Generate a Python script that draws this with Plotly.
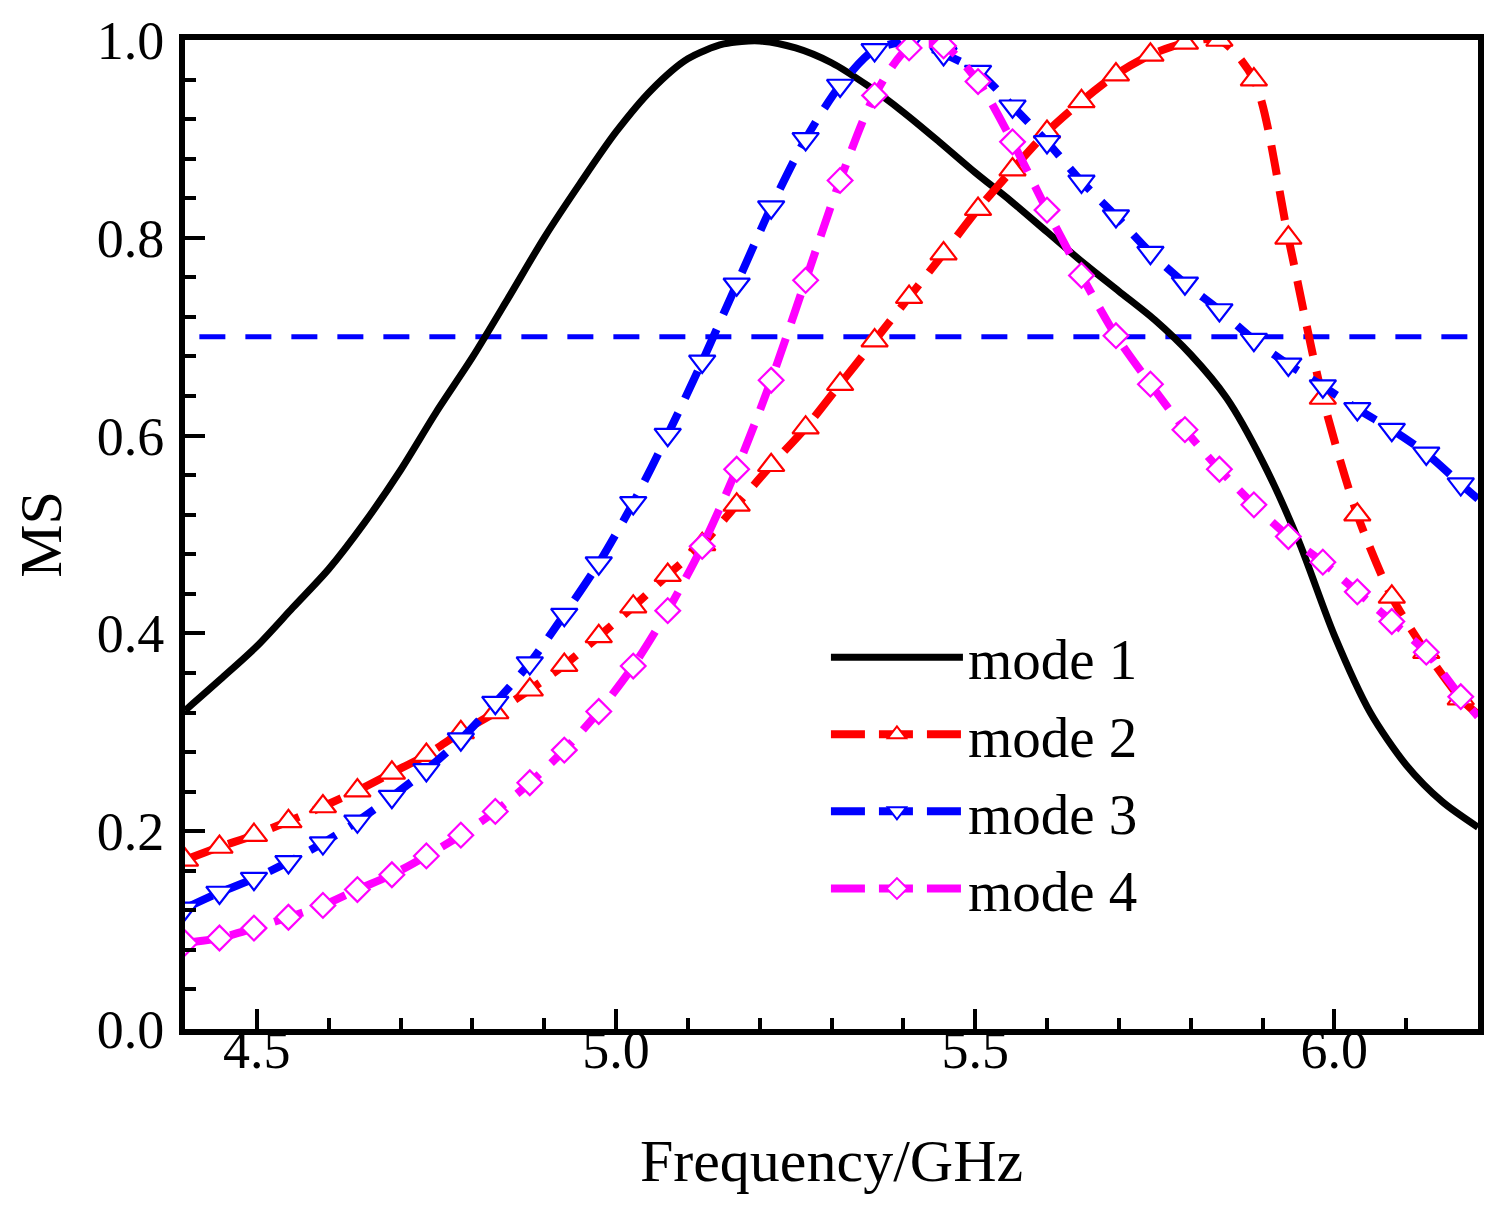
import plotly.graph_objects as go

# marker frequencies (GHz) shared by modes 2-4
freq = [4.400, 4.448, 4.496, 4.544, 4.592, 4.640, 4.688, 4.736, 4.784, 4.832,
        4.880, 4.928, 4.976, 5.024, 5.072, 5.120, 5.168, 5.216, 5.264, 5.312,
        5.360, 5.408, 5.456, 5.504, 5.552, 5.600, 5.648, 5.696, 5.744, 5.792,
        5.840, 5.888, 5.936, 5.984, 6.032, 6.080, 6.128, 6.176]
f_end = 6.2

mode1_f = [4.40, 4.45, 4.50, 4.55, 4.60, 4.65, 4.70, 4.75, 4.80, 4.85,
           4.90, 4.95, 5.00, 5.05, 5.10, 5.15, 5.20, 5.25, 5.30, 5.35,
           5.40, 5.45, 5.50, 5.55, 5.60, 5.65, 5.70, 5.75, 5.80, 5.85,
           5.90, 5.95, 6.00, 6.05, 6.10, 6.15, 6.20]
mode1 = [0.322, 0.354, 0.387, 0.426, 0.465, 0.512, 0.565, 0.624, 0.679, 0.739,
         0.800, 0.855, 0.907, 0.950, 0.981, 0.996, 0.999, 0.992, 0.977, 0.954,
         0.927, 0.897, 0.866, 0.837, 0.806, 0.775, 0.746, 0.717, 0.682, 0.638,
         0.574, 0.494, 0.398, 0.320, 0.267, 0.230, 0.204]

mode2 = [0.171, 0.184, 0.196, 0.210, 0.225, 0.241, 0.259, 0.277, 0.300, 0.320,
         0.343, 0.368, 0.397, 0.427, 0.459, 0.490, 0.530, 0.570, 0.608, 0.652,
         0.696, 0.740, 0.784, 0.829, 0.869, 0.907, 0.938, 0.965, 0.985, 0.997,
         1.000, 0.960, 0.800, 0.638, 0.520, 0.437, 0.381, 0.334]
mode2_end = 0.318

mode3 = [0.122, 0.138, 0.152, 0.169, 0.188, 0.210, 0.235, 0.262, 0.293, 0.330,
         0.370, 0.419, 0.471, 0.532, 0.601, 0.675, 0.753, 0.831, 0.900, 0.954,
         0.990, 0.998, 0.986, 0.968, 0.933, 0.897, 0.857, 0.822, 0.785, 0.754,
         0.727, 0.697, 0.672, 0.650, 0.627, 0.606, 0.582, 0.551]
mode3_end = 0.536

mode4 = [0.087, 0.092, 0.102, 0.113, 0.125, 0.141, 0.156, 0.175, 0.196, 0.220,
         0.249, 0.282, 0.321, 0.367, 0.423, 0.488, 0.566, 0.656, 0.757, 0.858,
         0.944, 0.992, 0.994, 0.958, 0.897, 0.828, 0.762, 0.701, 0.652, 0.606,
         0.566, 0.530, 0.498, 0.472, 0.442, 0.412, 0.381, 0.336]
mode4_end = 0.316

# 0.7 reference level
ref_f = [4.42, 6.2]
ref_level = [0.7, 0.7]

FONT = "Liberation Serif"
dash = "30px,16px"

fig = go.Figure()

fig.add_trace(go.Scatter(x=ref_f, y=ref_level, mode="lines", showlegend=False,
                         line=dict(color="#0000ff", width=5, dash="26px,20px")))

fig.add_trace(go.Scatter(x=mode1_f, y=mode1, mode="lines", name="mode 1",
                         line=dict(color="black", width=7, shape="spline",
                                   smoothing=0.8)))

others = [
    ("mode 2", mode2, mode2_end, "#ff0000", "triangle-up", 23),
    ("mode 3", mode3, mode3_end, "#0000ff", "triangle-down", 23),
    ("mode 4", mode4, mode4_end, "#ff00ff", "diamond", 19),
]
for name, vals, end, col, sym, sz in others:
    # line (runs on to the right axis)
    fig.add_trace(go.Scatter(x=freq + [f_end], y=vals + [end], mode="lines",
                             showlegend=False,
                             line=dict(color=col, width=8, dash=dash,
                                       shape="spline", smoothing=0.8)))
    # open markers
    fig.add_trace(go.Scatter(x=freq, y=vals, mode="markers", showlegend=False,
                             marker=dict(symbol=sym, size=sz, color="white",
                                         line=dict(color=col, width=2.2))))
    # legend entry
    fig.add_trace(go.Scatter(x=[None], y=[None], mode="lines+markers", name=name,
                             line=dict(color=col, width=8, dash="34px,14px"),
                             marker=dict(symbol=sym, size=16, color="white",
                                         line=dict(color=col, width=2))))

axis_common = dict(showline=True, linecolor="black", linewidth=6, mirror=True,
                   showgrid=False, zeroline=False, ticks="inside",
                   tickcolor="black", tickwidth=3.5, ticklen=20,
                   ticklabeloverflow="allow", automargin=False,
                   tickfont=dict(family=FONT, size=54, color="black"))

# the page adds an 8px body margin, so the figure is sized to fit inside it
fig.update_layout(
    width=1488, height=1197,
    margin=dict(l=177, r=18, t=32, b=176, autoexpand=False),
    plot_bgcolor="white", paper_bgcolor="white",
    font=dict(family=FONT, color="black"),
    xaxis=dict(range=[4.4, 6.2], dtick=0.5, tick0=4.5, tickformat=".1f",
               ticklabelstandoff=-32,
               minor=dict(dtick=0.1, ticks="inside", ticklen=11, tickwidth=3.5,
                          tickcolor="black"),
               title=dict(text="Frequency/GHz", font=dict(family=FONT, size=60),
                          standoff=62),
               **axis_common),
    yaxis=dict(range=[0, 1], dtick=0.2, tickformat=".1f",
               ticklabelstandoff=4,
               minor=dict(dtick=0.04, ticks="inside", ticklen=11, tickwidth=3.5,
                          tickcolor="black"),
               title=dict(text="MS", font=dict(family=FONT, size=60),
                          standoff=20),
               **axis_common),
    xaxis2=dict(range=[4.4, 6.2], overlaying="x", side="top", anchor="y",
                dtick=0.2, tick0=4.4, ticks="inside", ticklen=13, tickwidth=3.5,
                tickcolor="black", showticklabels=False, showgrid=False,
                zeroline=False, showline=False),
    yaxis2=dict(range=[0, 1], overlaying="y", side="right", anchor="x",
                dtick=0.1, ticks="inside", ticklen=13, tickwidth=3.5,
                tickcolor="black", showticklabels=False, showgrid=False,
                zeroline=False, showline=False),
    legend=dict(x=0.4957, y=0.42, xanchor="left", yanchor="top",
                bgcolor="rgba(0,0,0,0)", borderwidth=0, itemwidth=132,
                font=dict(family=FONT, size=57, color="black"),
                tracegroupgap=0),
)

fig.write_html("out.html")
